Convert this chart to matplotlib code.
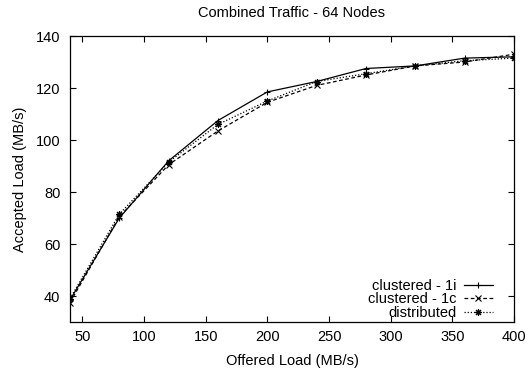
import matplotlib
matplotlib.use("Agg")
import matplotlib.pyplot as plt

plt.rcParams['font.family'] = ['Liberation Sans', 'DejaVu Sans']
plt.rcParams['font.size'] = 10.5

# offered load (MB/s)
offered = [40, 80, 120, 160, 200, 240, 280, 320, 360, 400]

# accepted load (MB/s)
clustered_1i = [38.5, 70.0, 92.0, 107.5, 118.5, 122.5, 127.5, 128.5, 131.5, 132.0]
clustered_1c = [37.5, 70.5, 90.5, 103.5, 114.5, 121.0, 125.0, 128.5, 130.0, 133.0]
distributed = [39.0, 71.5, 91.5, 106.0, 115.0, 122.5, 125.5, 128.5, 130.5, 131.5]

xticks = [50, 100, 150, 200, 250, 300, 350, 400]
yticks = [40, 60, 80, 100, 120, 140]

fig = plt.figure(figsize=(5.3, 3.75), dpi=100)
ax = fig.add_axes([70 / 530, 1 - 322 / 375, 444 / 530, 286 / 375])

ax.plot(offered, clustered_1i, color='black', lw=0.9, ls='-',
        marker='+', ms=5, mew=0.8, label='clustered - 1i')
ax.plot(offered, clustered_1c, color='black', lw=0.9, ls=(0, (3, 2)),
        marker='x', ms=4, mew=0.8, label='clustered - 1c')
ax.plot(offered, distributed, color='black', lw=0.9, ls=(0, (1, 1.5)),
        marker=(8, 2, 0), ms=5, mew=0.8, label='distributed')

ax.set_xlim(40, 400)
ax.set_ylim(30, 140)
ax.set_xticks(xticks)
ax.set_yticks(yticks)
ax.tick_params(direction='in', top=True, right=True, length=4, width=0.8)
ax.tick_params(axis='y', pad=7)
ax.tick_params(axis='x', pad=6)
for s in ax.spines.values():
    s.set_linewidth(0.9)

ax.set_title('Combined Traffic - 64 Nodes', fontsize=10.5, pad=14)
ax.set_xlabel('Offered Load (MB/s)', labelpad=7)
ax.set_ylabel('Accepted Load (MB/s)', labelpad=6)

ax.legend(loc='lower right', bbox_to_anchor=(0.952, 0.008), frameon=False,
          markerfirst=False, handlelength=2.0, handletextpad=0.5,
          labelspacing=-0.05, borderaxespad=0, borderpad=0, fontsize=10.5)

fig.savefig('out.png', dpi=100)
